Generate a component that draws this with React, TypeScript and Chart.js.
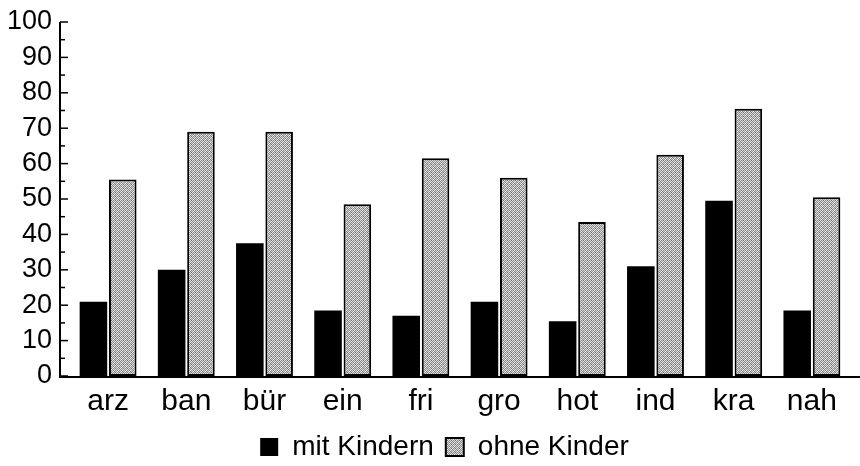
import React, { useEffect, useRef } from "react";
import { Chart, registerables } from "chart.js";

Chart.register(...registerables);

const categories = ["arz", "ban", "bür", "ein", "fri", "gro", "hot", "ind", "kra", "nah"];
const mitKindern = [21, 30, 37.5, 18.5, 17, 21, 15.5, 31, 49.5, 18.5];
const ohneKinder = [55.5, 69, 69, 48.5, 61.5, 56, 43.5, 62.5, 75.5, 50.5];
const yMin = 0;
const yMax = 100;
const yStep = 10;
const seriesNames = ["mit Kindern", "ohne Kinder"];

const FONT = "'Liberation Sans', Arial, sans-serif";

function makePattern(): CanvasPattern | string {
  const c = document.createElement("canvas");
  c.width = 4;
  c.height = 4;
  const ctx = c.getContext("2d");
  if (!ctx) return "#bdbdbd";
  const vals = [
    [225, 140, 205, 115],
    [135, 215, 155, 230],
    [210, 125, 235, 145],
    [155, 240, 130, 200],
  ];
  for (let y = 0; y < 4; y++) {
    for (let x = 0; x < 4; x++) {
      const v = vals[y][x];
      ctx.fillStyle = `rgb(${v},${v},${v})`;
      ctx.fillRect(x, y, 1, 1);
    }
  }
  const p = ctx.createPattern(c, "repeat");
  return p || "#bdbdbd";
}

const axesPlugin = {
  id: "customAxes",
  beforeDraw(chart: any) {
    if (chart.legend) {
      chart.legend.left = 38;
    }
  },
  afterDatasetsDraw(chart: any) {
    const ctx = chart.ctx;
    const y = chart.scales.y;
    const axisX = 60;
    const axisY = y.getPixelForValue(yMin) + 1;
    ctx.save();
    ctx.strokeStyle = "#000";
    ctx.lineWidth = 2;
    ctx.beginPath();
    ctx.moveTo(axisX, y.getPixelForValue(yMax));
    ctx.lineTo(axisX, axisY);
    ctx.lineTo(chart.width, axisY);
    ctx.stroke();
    ctx.lineWidth = 1.5;
    for (let v = yMin; v <= yMax; v += yStep / 2) {
      const py = y.getPixelForValue(v);
      const len = v % yStep === 0 ? 8 : 5;
      ctx.beginPath();
      ctx.moveTo(axisX, py);
      ctx.lineTo(axisX + len, py);
      ctx.stroke();
    }
    ctx.restore();
  },
};

export default function App() {
  const ref = useRef<HTMLCanvasElement | null>(null);
  useEffect(() => {
    document.body.style.margin = "0";
    const canvas = ref.current;
    if (!canvas) return;
    const pattern = makePattern();
    const chart = new Chart(canvas, {
      type: "bar",
      data: {
        labels: categories,
        datasets: [
          {
            label: seriesNames[0],
            data: mitKindern,
            backgroundColor: "#000",
            borderColor: "#000",
            borderWidth: 0,
            categoryPercentage: 0.75,
            barPercentage: 0.94,
          },
          {
            label: seriesNames[1],
            data: ohneKinder,
            backgroundColor: pattern as any,
            borderColor: "#000",
            borderWidth: 2,
            borderSkipped: false,
            categoryPercentage: 0.75,
            barPercentage: 0.94,
          },
        ],
      },
      options: {
        animation: false,
        responsive: false,
        maintainAspectRatio: false,
        layout: { padding: { top: 22, right: 9, left: 0, bottom: -5 } },
        plugins: {
          tooltip: { enabled: false },
          legend: {
            position: "bottom",
            labels: {
              color: "#000",
              font: { family: FONT, size: 28 },
              boxWidth: 18,
              boxHeight: 18,
              padding: 12,
            },
          },
        },
        scales: {
          x: {
            grid: { display: false },
            border: { display: false },
            ticks: {
              color: "#000",
              font: { family: FONT, size: 30 },
              padding: 0,
            },
            afterFit: (s: any) => {
              s.height = 45;
            },
          },
          y: {
            min: yMin,
            max: yMax,
            grid: { display: false, drawTicks: false },
            border: { display: false },
            ticks: {
              stepSize: yStep,
              autoSkip: false,
              color: "#000",
              font: { family: FONT, size: 27 },
              padding: 17,
            },
            afterFit: (s: any) => {
              s.width = 69;
              s.paddingTop = 0;
              s.paddingBottom = 0;
            },
          },
        },
      },
      plugins: [axesPlugin],
    });
    return () => chart.destroy();
  }, []);
  return (
    <div style={{ width: 860, height: 466 }}>
      <canvas ref={ref} width={860} height={466} style={{ width: 860, height: 466 }} />
    </div>
  );
}
